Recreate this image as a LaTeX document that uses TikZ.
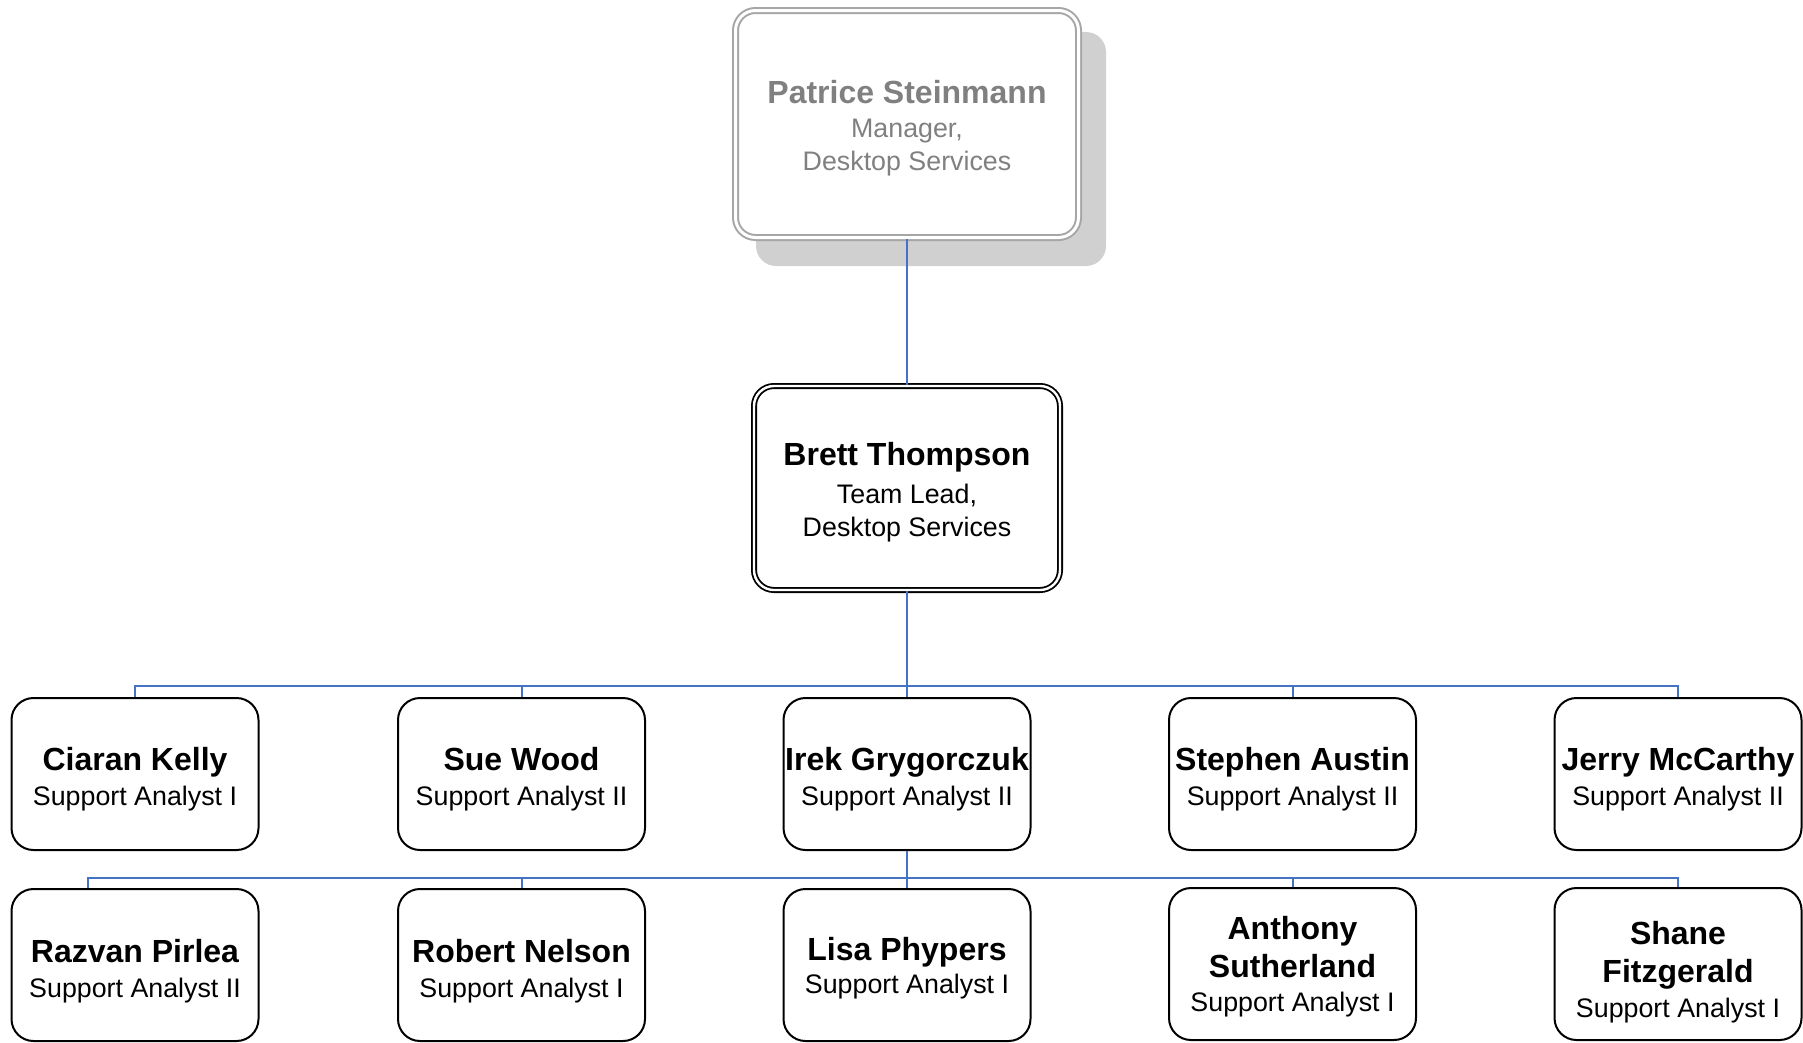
\documentclass[tikz,border=0pt]{standalone}
\usepackage{fontspec}
\setmainfont{Liberation Sans}
\definecolor{linkblue}{HTML}{4472C4}
\definecolor{mgrgray}{HTML}{A6A6A6}
\definecolor{mgrtext}{HTML}{808080}
\definecolor{shadowgray}{HTML}{D0D0D0}
\newcommand{\pname}[1]{{\fontsize{32}{38}\selectfont\bfseries #1}}

\begin{document}
\begin{tikzpicture}[x=1pt, y=1pt,
    every node/.style={font=\fontsize{26.8}{30}\selectfont},
    person/.style={draw, line width=2pt, rounded corners=22pt, fill=white,
      minimum width=247pt, minimum height=152pt, inner sep=0pt},
    ptext/.style={align=center, yshift=#1}, ptext/.default=-5pt,
    link/.style={draw=linkblue, line width=2pt}]
  \useasboundingbox (0,0) rectangle (1803,-1042);
  % Manager (greyed out, with shadow)
  \fill[shadowgray, rounded corners=20pt] (756,-32) rectangle (1106,-266);
  \node[draw=mgrgray, double, double distance=3pt, line width=2pt, fill=white,
    rounded corners=20pt, minimum width=343pt, minimum height=227pt, inner sep=0pt,
    label={[ptext=-4pt, text=mgrtext]center:{\pname{Patrice Steinmann}\\[4pt]Manager,\\[2.5pt]Desktop Services}}]
    (patrice) at (907,-124) {};
  % Team lead
  \node[draw, double, double distance=2.4pt, line width=1.8pt, fill=white,
    rounded corners=20pt, minimum width=306pt, minimum height=204pt, inner sep=0pt,
    label={[ptext=-4pt]center:{\pname{Brett Thompson}\\[8.5pt]Team Lead,\\[3pt]Desktop Services}}]
    (brett) at (907,-488) {};
  % First row of analysts
  \node[person, label={[ptext]center:{\pname{Ciaran Kelly}\\[5pt]Support Analyst I}}] (ciaran) at (135,-774) {};
  \node[person, label={[ptext]center:{\pname{Sue Wood}\\[5pt]Support Analyst II}}] (sue) at (521.5,-774) {};
  \node[person, label={[ptext]center:{\pname{Irek Grygorczuk}\\[5pt]Support Analyst II}}] (irek) at (907,-774) {};
  \node[person, label={[ptext]center:{\pname{Stephen Austin}\\[5pt]Support Analyst II}}] (stephen) at (1292.5,-774) {};
  \node[person, label={[ptext]center:{\pname{Jerry McCarthy}\\[5pt]Support Analyst II}}] (jerry) at (1678,-774) {};
  % Second row of analysts
  \node[person, label={[ptext=-6pt]center:{\pname{Razvan Pirlea}\\[5pt]Support Analyst II}}] (razvan) at (135,-965) {};
  \node[person, label={[ptext=-6pt]center:{\pname{Robert Nelson}\\[5pt]Support Analyst I}}] (robert) at (521.5,-965) {};
  \node[person, label={[ptext=-3pt]center:{\pname{Lisa Phypers}\\[3pt]Support Analyst I}}] (lisa) at (907,-965) {};
  \node[person, label={[ptext=-3pt]center:{\pname{Anthony}\\[8pt]\pname{Sutherland}\\[4pt]Support Analyst I}}] (anthony) at (1292.5,-964) {};
  \node[person, label={[ptext=-8pt]center:{\pname{Shane}\\[8pt]\pname{Fitzgerald}\\[5pt]Support Analyst I}}] (shane) at (1678,-964) {};
  % Reporting lines
  \coordinate (bus1) at (907,-686);
  \coordinate (bus2) at (907,-878);
  \draw[link] (patrice) -- (brett);
  \draw[link] (brett) -- (bus1);
  \draw[link] (irek.north) -- (bus1);
  \foreach \p in {ciaran,sue,stephen,jerry}
    \draw[link] (\p.north) |- (bus1);
  \draw[link] (irek) -- (lisa);
  \draw[link] ([xshift=-47pt]razvan.north) |- (bus2);
  \foreach \p in {robert,anthony,shane}
    \draw[link] (\p.north) |- (bus2);
\end{tikzpicture}
\end{document}
